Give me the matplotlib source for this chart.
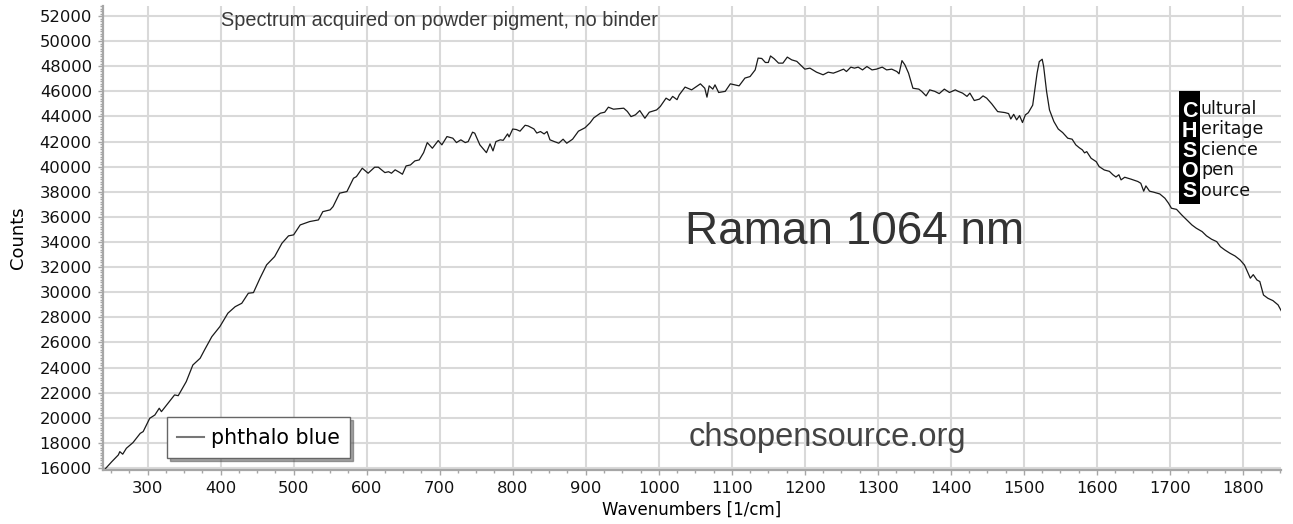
import matplotlib
matplotlib.use("Agg")
import matplotlib.pyplot as plt
from matplotlib.patches import Rectangle
from matplotlib.ticker import MultipleLocator

# Raman 1064 nm spectrum of phthalo blue
wavenumbers = [
    240, 251, 260, 262, 266, 271, 280, 290, 294, 303, 310, 316, 319, 328, 337, 342,
    353, 362, 372, 378, 388, 399, 410, 420, 429, 438, 445, 454, 463, 474, 484, 493,
    500, 509, 522, 534, 540, 550, 554, 563, 573, 582, 586, 594, 602, 611, 616, 625,
    630, 634, 639, 645, 649, 654, 660, 666, 672, 678, 683, 690, 698, 703, 710, 718,
    723, 729, 735, 739, 745, 748, 755, 764, 769, 773, 777, 783, 787, 793, 795, 800,
    805, 810, 817, 821, 829, 833, 838, 843, 847, 851, 857, 863, 869, 874, 882, 890,
    899, 906, 911, 920, 926, 931, 938, 952, 957, 962, 968, 974, 981, 987, 997, 1002,
    1010, 1015, 1019, 1025, 1028, 1036, 1045, 1057, 1063, 1066, 1069, 1074, 1077, 1082,
    1091, 1098, 1110, 1118, 1125, 1132, 1136, 1141, 1146, 1150, 1153, 1158, 1164, 1170,
    1176, 1182, 1189, 1194, 1200, 1207, 1216, 1225, 1232, 1239, 1245, 1253, 1257, 1263,
    1268, 1273, 1279, 1285, 1292, 1298, 1306, 1312, 1319, 1326, 1329, 1333, 1337, 1342,
    1348, 1356, 1360, 1366, 1371, 1378, 1384, 1391, 1398, 1406, 1410, 1416, 1422, 1426,
    1432, 1439, 1444, 1449, 1456, 1464, 1474, 1479, 1482, 1486, 1490, 1494, 1498, 1502,
    1506, 1512, 1518, 1521, 1525, 1527, 1531, 1535, 1541, 1547, 1553, 1560, 1566, 1571,
    1576, 1580, 1583, 1586, 1592, 1599, 1603, 1610, 1617, 1622, 1626, 1630, 1633, 1638,
    1647, 1656, 1660, 1664, 1667, 1672, 1677, 1686, 1693, 1698, 1702, 1709, 1716, 1723,
    1730, 1736, 1744, 1750, 1757, 1764, 1769, 1775, 1782, 1789, 1796, 1802, 1807, 1810,
    1814, 1819, 1823, 1828, 1834, 1841, 1848, 1853,
]
counts = [
    15800, 16500, 17040, 17300, 17100, 17570, 18020, 18760, 18900, 19960, 20220, 20760,
    20490, 21150, 21820, 21760, 22880, 24200, 24740, 25400, 26460, 27260, 28330, 28850,
    29120, 29920, 29970, 31120, 32180, 32840, 33900, 34490, 34570, 35360, 35630, 35760,
    36420, 36560, 36820, 37890, 38020, 39080, 39210, 39880, 39480, 39960, 39960, 39530,
    39600, 39480, 39750, 39550, 39400, 40060, 40140, 40460, 40540, 41120, 41920, 41470,
    42080, 41740, 42400, 42270, 41920, 42140, 41920, 42000, 42750, 42670, 41740, 41120,
    41820, 41260, 42000, 42140, 42100, 42610, 42370, 43000, 42960, 42830, 43300, 43250,
    43010, 42680, 42800, 42610, 42800, 42140, 42000, 41870, 42190, 41870, 42190, 42830,
    43100, 43500, 43890, 44260, 44340, 44740, 44580, 44660, 44400, 43990, 44130, 44470,
    43860, 44340, 44520, 44790, 45460, 45280, 45600, 45340, 45720, 46340, 46120, 46600,
    46250, 45540, 46440, 46180, 46520, 45910, 46000, 46600, 46440, 47060, 47180, 47710,
    48650, 48620, 48300, 48300, 48820, 48600, 48250, 48250, 48730, 48510, 48390, 48110,
    47770, 47850, 47530, 47320, 47530, 47450, 47580, 47770, 47580, 47930, 47850, 47930,
    47710, 47980, 47710, 47770, 47930, 47710, 47770, 47580, 47400, 48450, 48110, 47450,
    46250, 46180, 46000, 45640, 46120, 46000, 45820, 46180, 45910, 46120, 46000, 45860,
    45600, 45860, 45270, 45380, 45640, 45460, 45000, 44390, 44310, 44230, 43800, 44170,
    43730, 44070, 43520, 44130, 44300, 44900, 47450, 48370, 48560, 47980, 46000, 44520,
    43600, 43000, 42720, 42270, 42190, 41740, 41500, 41340, 41100, 41200, 40670, 40400,
    40010, 39740, 39630, 39350, 39180, 39360, 38950, 39160, 39000, 38820, 38680, 38050,
    38470, 38050, 37980, 37830, 37490, 37090, 36690, 36600, 36160, 35760, 35360, 35100,
    34830, 34490, 34220, 34030, 33630, 33370, 33110, 32890, 32570, 32170, 31510, 31120,
    31400, 30980, 30850, 29780, 29520, 29330, 28990, 28450,
]
series_name = "phthalo blue"
logo_initials = ["C", "H", "S", "O", "S"]
logo_rest = ["ultural", "eritage", "cience", "pen", "ource"]

W, H = 1293, 524
fig = plt.figure(figsize=(W / 100, H / 100), dpi=100)
# plot area spans x 103..1281 px and y 6..470 px of the picture
ax = fig.add_axes([103 / W, (H - 470) / H, 1178 / W, 464 / H])

ax.plot(wavenumbers, counts, color="#1a1a1a", lw=0.9, label=series_name)
ax.set_xlim(239, 1852)
ax.set_ylim(15840, 52800)

ax.xaxis.set_major_locator(MultipleLocator(100))
ax.xaxis.set_minor_locator(MultipleLocator(25))
ax.yaxis.set_major_locator(MultipleLocator(2000))
ax.yaxis.set_minor_locator(MultipleLocator(200))
ax.grid(True, which="major", color="#d9d9d9", lw=1.5)
ax.set_axisbelow(True)

for side in ("top", "right"):
    ax.spines[side].set_visible(False)
for side in ("left", "bottom"):
    ax.spines[side].set_color("#a6a6a6")
    ax.spines[side].set_linewidth(1.6)

ax.tick_params(which="major", length=3.5, width=1, color="#a6a6a6",
               labelsize=11.8, labelcolor="#111111", pad=4.5)
ax.tick_params(which="minor", length=2.2, width=1, color="#a6a6a6")

ax.set_xlabel("Wavenumbers [1/cm]", fontsize=12, labelpad=3)
ax.set_ylabel("Counts", fontsize=13, labelpad=9)

leg = ax.legend(loc="lower left", bbox_to_anchor=(0.0543, 0.0259), borderaxespad=0,
                fontsize=14.8, frameon=True, fancybox=False, shadow=True,
                handlelength=1.3, handletextpad=0.35, borderpad=0.5)
leg.get_frame().set_edgecolor("#666666")
leg.get_frame().set_linewidth(1.0)
leg.get_lines()[0].set_color("#777777")
leg.get_lines()[0].set_linewidth(1.5)

ax.text(0.1002, 0.9698, "Spectrum acquired on powder pigment, no binder",
        transform=ax.transAxes, ha="left", va="center", fontsize=14.3,
        family="Liberation Sans", color="#3a3a3a")
ax.text(0.494, 0.513, "Raman 1064 nm", transform=ax.transAxes, ha="left",
        va="center", fontsize=33, family="Liberation Sans", color="#333333")
ax.text(0.4975, 0.069, "chsopensource.org", transform=ax.transAxes, ha="left",
        va="center", fontsize=23.5, family="Liberation Sans", color="#444444")

# CHSOS logo block
fig.add_artist(Rectangle((1179 / W, 1 - 204 / H), 21 / W, 113 / H,
                         transform=fig.transFigure, facecolor="black",
                         edgecolor="none"))
for i, (init, rest) in enumerate(zip(logo_initials, logo_rest)):
    fig.text(1189.5 / W, 1 - (117 + 20 * i) / H, init, ha="center", va="baseline",
             fontsize=15.5, fontweight="bold", family="Liberation Sans", color="white")
    fig.text(1201 / W, 1 - (114 + 20.4 * i) / H, rest, ha="left", va="baseline",
             fontsize=12.5, family="DejaVu Sans", color="#111111")

fig.savefig("out.png", dpi=100)
